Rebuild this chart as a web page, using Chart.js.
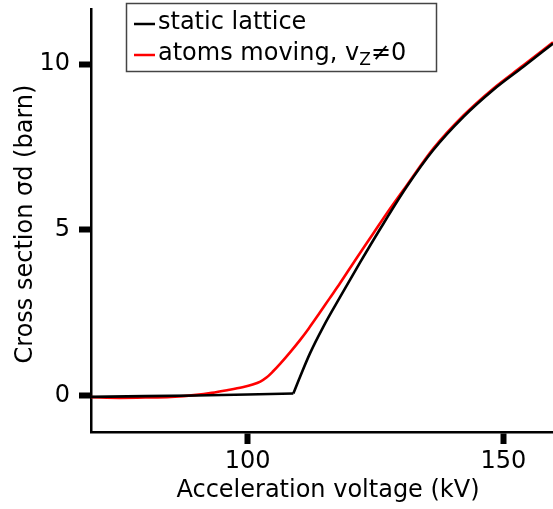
<!DOCTYPE html>
<html>
<head>
<meta charset="utf-8">
<script src="https://cdn.jsdelivr.net/npm/chart.js@4/dist/chart.umd.min.js"></script>
<style>
  html, body { margin: 0; padding: 0; background: #fff; }
  #wrap { width: 553px; height: 509px; }
</style>
</head>
<body>
<div id="wrap"><canvas id="sigmaChart" width="553" height="509"></canvas></div>
<script>
// static lattice (kV, barn) : flat part below threshold, then rising part
const staticFlatKv    = [69.4, 80, 90, 100, 108.95];
const staticFlatSigma = [-0.03, -0.01, 0.01, 0.04, 0.07];
const staticRiseKv    = [108.95, 110.25, 112.2, 114.8, 118.1, 122, 126, 131.1, 136.3, 142.2, 148, 153.9, 159.7];
const staticRiseSigma = [0.07, 0.57, 1.28, 2.08, 2.98, 4.02, 5.05, 6.3, 7.41, 8.41, 9.22, 9.92, 10.62];

// atoms moving, vz != 0
const movingKv    = [69.4, 75, 80, 85, 90, 93, 96, 99, 101, 102.5, 103.7, 105, 106.4, 108.3, 110.25, 112, 114, 116, 118.1, 121.3, 124.6, 127, 131.1, 136.3, 142.2, 148, 153.9, 159.7];
const movingSigma = [-0.04, -0.06, -0.05, -0.03, 0.03, 0.09, 0.17, 0.26, 0.34, 0.43, 0.55, 0.74, 0.97, 1.31, 1.68, 2.04, 2.48, 2.93, 3.4, 4.15, 4.9, 5.45, 6.34, 7.45, 8.45, 9.26, 9.96, 10.66];

const xTickValues = [100, 150];
const yTickValues = [0, 5, 10];
const xLimits = [69.4, 159.7];
const yLimits = [-1.09, 11.66];

const xTitle = 'Acceleration voltage (kV)';
const yTitle = 'Cross section \u03c3d (barn)';
const seriesNames = ['static lattice', 'atoms moving, v', 'Z', '\u22600'];
const seriesColors = ['#000000', '#ff0000'];

const FONT = '"DejaVu Sans", "Liberation Sans", sans-serif';

function toPoints(xs, ys) {
    return xs.map((x, i) => ({ x: x, y: ys[i] }));
}

// 범례 상자와 축 제목 (아래첨자 때문에 직접 그림)
const boxLegend = {
    id: 'boxLegend',
    afterDraw(chart) {
        const ctx = chart.ctx;
        ctx.save();
        ctx.fillStyle = '#fff';
        ctx.fillRect(126, 3, 311, 68);
        ctx.strokeStyle = '#444';
        ctx.lineWidth = 1.5;
        ctx.strokeRect(126.5, 3.5, 310, 68);

        const rows = [
            { color: seriesColors[0], lineY: 24, base: 29 },
            { color: seriesColors[1], lineY: 55, base: 60 }
        ];
        rows.forEach(r => {
            ctx.strokeStyle = r.color;
            ctx.lineWidth = 2.5;
            ctx.beginPath();
            ctx.moveTo(134, r.lineY);
            ctx.lineTo(155, r.lineY);
            ctx.stroke();
        });

        ctx.fillStyle = '#000';
        ctx.textBaseline = 'alphabetic';
        ctx.textAlign = 'left';
        ctx.font = '24px ' + FONT;
        ctx.fillText(seriesNames[0], 158, rows[0].base);

        let x = 158;
        ctx.fillText(seriesNames[1], x, rows[1].base);
        x += ctx.measureText(seriesNames[1]).width;
        ctx.font = '17px ' + FONT;
        ctx.fillText(seriesNames[2], x, rows[1].base + 5);
        x += ctx.measureText(seriesNames[2]).width;
        ctx.font = '24px ' + FONT;
        ctx.fillText(seriesNames[3], x, rows[1].base);

        // 축 제목
        ctx.textAlign = 'center';
        ctx.fillText(xTitle, 328, 497);
        ctx.translate(32, 224);
        ctx.rotate(-Math.PI / 2);
        ctx.fillText(yTitle, 0, 0);
        ctx.restore();
    }
};

const tickGrid = {
    display: true,
    drawOnChartArea: false,
    drawTicks: true,
    tickLength: 12,
    tickWidth: 6,
    tickColor: '#000'
};

const lineStyle = {
    showLine: true,
    borderWidth: 2.6,
    pointRadius: 0,
    cubicInterpolationMode: 'monotone'
};

// dataset 0 is drawn on top
new Chart(document.getElementById('sigmaChart'), {
    type: 'scatter',
    data: {
        datasets: [{
            ...lineStyle,
            label: 'static lattice',
            data: toPoints(staticFlatKv, staticFlatSigma),
            borderColor: seriesColors[0],
            cubicInterpolationMode: 'default',
            tension: 0
        }, {
            ...lineStyle,
            label: 'static lattice',
            data: toPoints(staticRiseKv, staticRiseSigma),
            borderColor: seriesColors[0]
        }, {
            ...lineStyle,
            label: 'atoms moving, vZ\u22600',
            data: toPoints(movingKv, movingSigma),
            borderColor: seriesColors[1]
        }]
    },
    options: {
        responsive: false,
        animation: false,
        layout: { padding: { top: 9, right: 0, bottom: 0, left: 0 } },
        plugins: {
            legend: { display: false },
            tooltip: { enabled: false }
        },
        scales: {
            x: {
                type: 'linear',
                min: xLimits[0],
                max: xLimits[1],
                afterBuildTicks: s => { s.ticks = xTickValues.map(v => ({ value: v })); },
                afterFit: s => { s.height = 77; s.paddingLeft = 0; s.paddingRight = 0; },
                grid: tickGrid,
                border: { display: true, color: '#000', width: 2.5 },
                ticks: { color: '#000', padding: 3, font: { family: FONT, size: 24 } },
                title: { display: false, text: xTitle }
            },
            y: {
                type: 'linear',
                min: yLimits[0],
                max: yLimits[1],
                afterBuildTicks: s => { s.ticks = yTickValues.map(v => ({ value: v })); },
                afterFit: s => { s.width = 91; s.paddingTop = 0; s.paddingBottom = 0; },
                grid: tickGrid,
                border: { display: true, color: '#000', width: 2.5 },
                ticks: { color: '#000', padding: 9, font: { family: FONT, size: 24 } },
                title: { display: false, text: yTitle }
            }
        }
    },
    plugins: [boxLegend]
});
</script>
</body>
</html>
